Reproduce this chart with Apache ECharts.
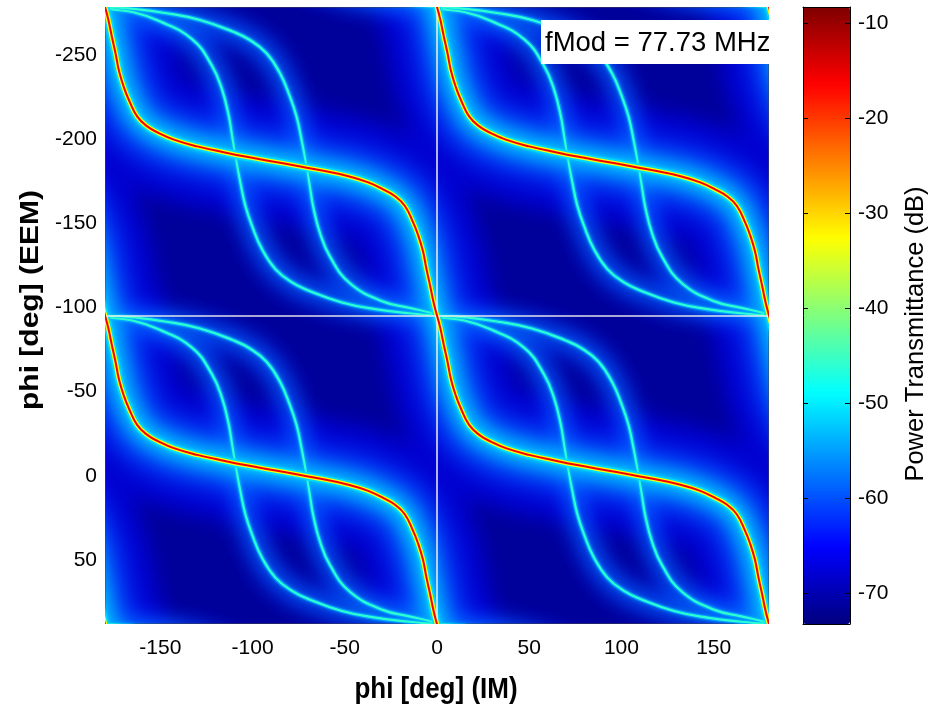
<!DOCTYPE html>
<html>
<head>
<meta charset="utf-8">
<script src="https://cdn.jsdelivr.net/npm/echarts@6/dist/echarts.min.js"></script>
<style>
  html, body { margin: 0; padding: 0; background: #ffffff; }
  #wrap { position: relative; width: 936px; height: 708px; }
  #base { position: absolute; left: 0; top: 0; width: 936px; height: 708px; }
  #glowClip { position: absolute; left: 105px; top: 7px; width: 664px; height: 617px; overflow: hidden; }
  #glow { position: absolute; left: -40px; top: -40px; width: 744px; height: 697px; filter: blur(10px); }
  #ridge { position: absolute; left: 105px; top: 7px; width: 664px; height: 617px; }
</style>
</head>
<body>
<div id="wrap">
  <div id="base"></div>
  <div id="glowClip"><div id="glow"></div></div>
  <div id="ridge"></div>
</div>
<script>
// Transmittance ridges over one period cell (phi IM, phi EEM in degrees)
const ridgeMainIM  = [-180, -178.2, -176.3, -174.3, -172.3, -169.5, -167.1, -162.6, -157.1, -150.8, -142.7, -130.0, -113.8, -104.8, -90.0, -75.5, -66.0, -48.0, -37.3, -29.0, -22.9, -17.4, -12.9, -10.5, -7.7, -5.7, -3.7, -1.8, 0];
const ridgeMainEEM = [-278.5, -271.0, -261.0, -251.0, -240.0, -230.0, -223.4, -213.5, -207.6, -203.6, -199.7, -195.7, -191.8, -189.8, -186.9, -184.1, -182.1, -178.0, -174.3, -170.0, -166.2, -160.3, -150.4, -143.8, -133.8, -122.8, -112.8, -102.8, -95.25];

const ridgeAIM  = [-180, -178.0, -165.0, -150.9, -132.8, -122.0, -116.6, -112.9, -111.1, -109.3, -106.6, -103.9, -100.3, -94.9, -87.6, -78.6, -69.5, -51.5, -33.4, -15.0, 0];
const ridgeAEEM = [-278.5, -277.3, -275.5, -270.3, -259.4, -243.6, -229.7, -213.9, -202.0, -190.2, -174.3, -160.5, -148.6, -134.7, -122.8, -114.9, -110.0, -103.0, -99.0, -96.6, -95.25];

const ridgeBIM  = [-180, -165.0, -146.6, -128.5, -110.5, -101.4, -92.4, -85.1, -79.7, -76.1, -73.4, -70.7, -68.9, -67.1, -63.4, -58.0, -47.2, -29.1, -15.0, -2.0, 0];
const ridgeBEEM = [-278.5, -277.4, -274.8, -270.8, -263.8, -258.9, -251.0, -239.1, -225.2, -213.3, -199.5, -183.6, -171.8, -159.9, -144.1, -130.2, -114.4, -103.5, -99.8, -96.5, -95.25];

// The map repeats with these cell offsets
const cellShiftIM  = [-180, 0, 180, 360];
const cellShiftEEM = [-183.25, 0, 183.25, 366.5];

// Cell boundaries inside the plot
const boundaryIM  = [0];
const boundaryEEM = [-95.25];

const phiIMRange  = [-180, 180];
const phiEEMRange = [-278.5, 88];
const dbRange     = [-73.2, -8.3];

const xTicks  = [-150, -100, -50, 0, 50, 100, 150];
const yTicks  = [-250, -200, -150, -100, -50, 0, 50];
const cbTicks = [-70, -60, -50, -40, -30, -20, -10];

const fModMHz = 77.73;

// plot box in page pixels, and the extra margin the glow layer is drawn with
const plotBox = { left: 105, top: 7, width: 664, height: 617 };
const glowPad = 40;

// jet colormap
const jetStops = [[0,0,127],[0,0,255],[0,127,255],[0,255,255],[127,255,127],[255,255,0],[255,127,0],[255,0,0],[127,0,0]];
function jet(db, a) {
  let t = (db - dbRange[0]) / (dbRange[1] - dbRange[0]);
  t = Math.max(0, Math.min(1, t));
  const p = t * 8, i = Math.min(7, Math.floor(p)), f = p - i;
  const c = jetStops[i].map((v, k) => Math.round(v + (jetStops[i + 1][k] - v) * f));
  return 'rgba(' + c[0] + ',' + c[1] + ',' + c[2] + ',' + (a == null ? 1 : a) + ')';
}
const jetColors = jetStops.map(c => 'rgb(' + c.join(',') + ')');

function tiled(im, eem) {
  const out = [];
  cellShiftIM.forEach(sx => {
    cellShiftEEM.forEach(sy => {
      im.forEach((x, i) => out.push([x + sx, eem[i] + sy]));
      out.push(['-', '-']);
    });
  });
  return out;
}

const mainData = tiled(ridgeMainIM, ridgeMainEEM);
const innerData = tiled(ridgeAIM, ridgeAEEM).concat(tiled(ridgeBIM, ridgeBEEM));

function ridgeSeries(data, w, color, z, blur) {
  return {
    type: 'line', data: data, symbol: 'none', showSymbol: false,
    smooth: 0.45, silent: true, animation: false, clip: false, z: z,
    emphasis: { disabled: true },
    lineStyle: { width: w, color: color, cap: 'round', join: 'round',
      shadowBlur: blur || 0, shadowColor: blur ? color : 'transparent' }
  };
}

function hiddenAxis(min, max, inverse) {
  return { type: 'value', min: min, max: max, inverse: !!inverse, show: false,
    axisLine: { show: false }, axisTick: { show: false }, axisLabel: { show: false }, splitLine: { show: false } };
}

const fontFamily = 'Liberation Sans, Arial, sans-serif';
const labelFont = { fontFamily: fontFamily, fontSize: 21, color: '#000' };
const floorColor = jet(-71.5);

// ---- axes, colour bar and titles
const cbTarget = { type: 'scatter', xAxisIndex: 1, yAxisIndex: 1, data: [], silent: true };
const baseOption = {
  animation: false,
  backgroundColor: '#ffffff',
  grid: [
    { left: plotBox.left, top: plotBox.top, width: plotBox.width, height: plotBox.height, show: true, backgroundColor: floorColor, borderWidth: 0 },
    { left: 803, top: 7, width: 47, height: 617, show: false }
  ],
  xAxis: [
    { type: 'value', gridIndex: 0, min: phiIMRange[0], max: phiIMRange[1],
      axisLine: { show: false }, axisTick: { show: false }, splitLine: { show: false },
      axisLabel: Object.assign({ customValues: xTicks, margin: 14 }, labelFont) },
    { type: 'value', gridIndex: 1, min: 0, max: 1, position: 'bottom', z: 10,
      axisLine: { show: true, onZero: false, lineStyle: { color: '#000', width: 1 } },
      axisTick: { show: false }, axisLabel: { show: false }, splitLine: { show: false } },
    { type: 'value', gridIndex: 1, min: 0, max: 1, position: 'top', z: 10,
      axisLine: { show: true, onZero: false, lineStyle: { color: '#000', width: 1 } },
      axisTick: { show: false }, axisLabel: { show: false }, splitLine: { show: false } }
  ],
  yAxis: [
    { type: 'value', gridIndex: 0, inverse: true, min: phiEEMRange[0], max: phiEEMRange[1],
      axisLine: { show: false }, axisTick: { show: false }, splitLine: { show: false },
      axisLabel: Object.assign({ customValues: yTicks, margin: 8 }, labelFont) },
    { type: 'value', gridIndex: 1, min: dbRange[0], max: dbRange[1], position: 'right', z: 10,
      axisLine: { show: true, onZero: false, lineStyle: { color: '#000', width: 1 } },
      axisTick: { show: true, inside: true, length: 5, customValues: cbTicks, lineStyle: { color: '#000' } },
      axisLabel: Object.assign({ customValues: cbTicks, margin: 8 }, labelFont),
      splitLine: { show: false } },
    { type: 'value', gridIndex: 1, min: dbRange[0], max: dbRange[1], position: 'left', z: 10,
      axisLine: { show: true, onZero: false, lineStyle: { color: '#000', width: 1 } },
      axisTick: { show: true, inside: true, length: 5, customValues: cbTicks, lineStyle: { color: '#000' } },
      axisLabel: { show: false }, splitLine: { show: false } }
  ],
  visualMap: {
    type: 'continuous', seriesIndex: 0,
    min: dbRange[0], max: dbRange[1], orient: 'vertical',
    left: 803, top: 7, itemWidth: 47, itemHeight: 617, padding: 0,
    calculable: false, hoverLink: false, text: null,
    inRange: { color: jetColors }
  },
  graphic: [
    { type: 'text', x: 436, y: 690, silent: true, scaleY: 1.12,
      style: { text: 'phi [deg] (IM)', fontFamily: fontFamily, fontWeight: 'bold', fontSize: 26, fill: '#000', align: 'center', verticalAlign: 'middle' } },
    { type: 'text', x: 31, y: 300, rotation: Math.PI / 2, silent: true, scaleX: 1.2,
      style: { text: 'phi [deg] (EEM)', fontFamily: fontFamily, fontWeight: 'bold', fontSize: 25, fill: '#000', align: 'center', verticalAlign: 'middle' } },
    { type: 'text', x: 916, y: 334, rotation: Math.PI / 2, silent: true,
      style: { text: 'Power Transmittance (dB)', fontFamily: fontFamily, fontSize: 25.5, fill: '#000', align: 'center', verticalAlign: 'middle' } }
  ],
  series: [cbTarget]
};

// ---- soft glow around the ridges (drawn with a margin, then blurred)
const degPerPxIM = (phiIMRange[1] - phiIMRange[0]) / plotBox.width;
const degPerPxEEM = (phiEEMRange[1] - phiEEMRange[0]) / plotBox.height;
const glowOption = {
  animation: false,
  grid: { left: 0, top: 0, right: 0, bottom: 0, show: true, backgroundColor: floorColor, borderWidth: 0 },
  xAxis: hiddenAxis(phiIMRange[0] - glowPad * degPerPxIM, phiIMRange[1] + glowPad * degPerPxIM),
  yAxis: hiddenAxis(phiEEMRange[0] - glowPad * degPerPxEEM, phiEEMRange[1] + glowPad * degPerPxEEM, true),
  series: [
    ridgeSeries(mainData, 120, jet(-65, 0.55), 1),
    ridgeSeries(mainData, 70, jet(-61, 0.7), 2),
    ridgeSeries(innerData, 28, jet(-63, 0.6), 3),
    ridgeSeries(mainData, 32, jet(-56, 0.9), 4),
    ridgeSeries(innerData, 11, jet(-57, 0.9), 5),
    ridgeSeries(mainData, 12, jet(-50, 1), 6)
  ]
};

// ---- sharp ridge cores, cell boundaries and the frequency note
const ridgeOption = {
  animation: false,
  grid: { left: 0, top: 0, right: 0, bottom: 0, show: true, backgroundColor: 'transparent', borderColor: '#444', borderWidth: 1 },
  xAxis: hiddenAxis(phiIMRange[0], phiIMRange[1]),
  yAxis: hiddenAxis(phiEEMRange[0], phiEEMRange[1], true),
  series: [
    ridgeSeries(innerData, 4.5, jet(-54, 0.8), 1, 4),
    ridgeSeries(innerData, 2.2, jet(-46), 2),
    ridgeSeries(mainData, 8, jet(-51, 0.9), 3, 4),
    ridgeSeries(mainData, 4.6, jet(-33), 4),
    ridgeSeries(mainData, 2, jet(-16), 5),
    {
      type: 'line', data: [], z: 8, silent: true,
      markLine: {
        silent: true, symbol: 'none', animation: false, label: { show: false },
        lineStyle: { color: '#eeeeee', width: 1.6, type: 'solid', opacity: 0.95 },
        data: boundaryIM.map(v => ({ xAxis: v })).concat(boundaryEEM.map(v => ({ yAxis: v })))
      }
    }
  ],
  graphic: [
    { type: 'rect', z: 20, silent: true, shape: { x: 436, y: 13, width: 230, height: 44 }, style: { fill: '#ffffff' } },
    { type: 'text', z: 21, x: 440, y: 36, silent: true,
      style: { text: 'fMod = ' + fModMHz.toFixed(2) + ' MHz', fontFamily: fontFamily, fontSize: 27.5, fill: '#000', align: 'left', verticalAlign: 'middle' } }
  ]
};

echarts.init(document.getElementById('base')).setOption(baseOption);
echarts.init(document.getElementById('glow')).setOption(glowOption);
echarts.init(document.getElementById('ridge')).setOption(ridgeOption);
</script>
</body>
</html>
